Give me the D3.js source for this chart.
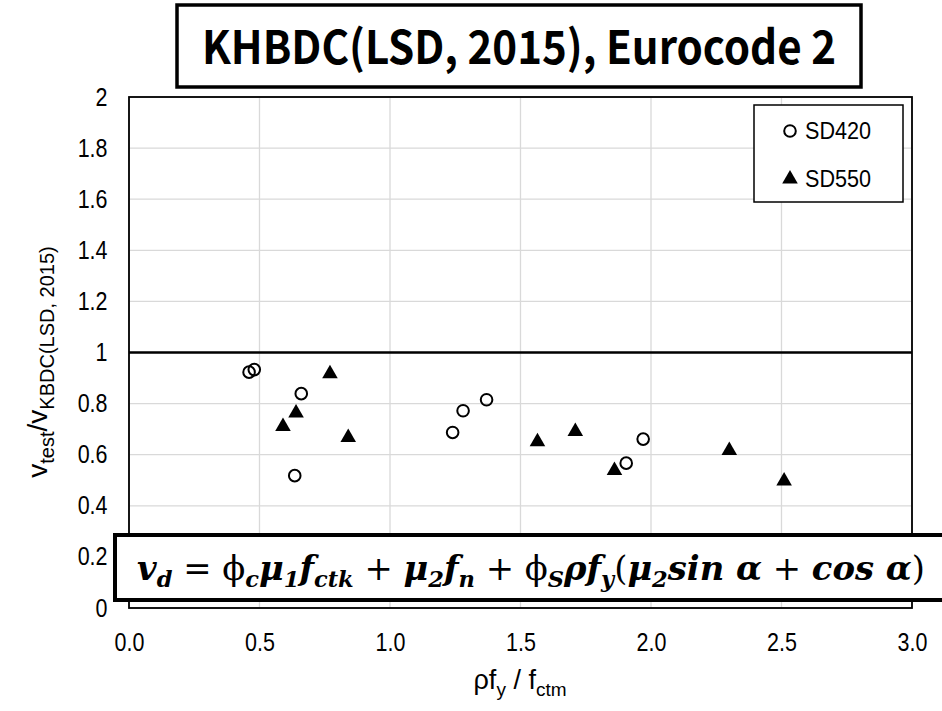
<!DOCTYPE html>
<html>
<head>
<meta charset="utf-8">
<script src="https://cdn.jsdelivr.net/npm/d3@7"></script>
<style>
  body { margin: 0; background: #fff; }
  svg { display: block; }
</style>
</head>
<body>
<script>
// chart size
var w = 942;
var h = 711;

// data
var sd420X = [0.46, 0.48, 0.66, 0.635, 1.24, 1.28, 1.37, 1.905, 1.97];
var sd420Y = [0.923, 0.933, 0.839, 0.518, 0.687, 0.772, 0.815, 0.567, 0.661];
var sd550X = [0.59, 0.64, 0.77, 0.84, 1.565, 1.71, 1.86, 2.30, 2.51];
var sd550Y = [0.71, 0.763, 0.917, 0.667, 0.651, 0.691, 0.538, 0.616, 0.497];

var xTicks = [0, 0.5, 1, 1.5, 2, 2.5, 3];
var yTicks = [0, 0.2, 0.4, 0.6, 0.8, 1, 1.2, 1.4, 1.6, 1.8, 2];
var seriesNames = ["SD420", "SD550"];
var refLine = 1;

var titleText = "KHBDC(LSD, 2015), Eurocode 2";

var svg = d3.select("body")
            .append("svg")
            .attr("width", w)
            .attr("height", h);

// plot area
var plotL = 129, plotR = 912, plotT = 97, plotB = 608;

var x = d3.scaleLinear().domain([0, 3]).range([plotL, plotR]);
var y = d3.scaleLinear().domain([0, 2]).range([plotB, plotT]);

//gridlines
svg.append("g")
   .selectAll("line")
   .data(xTicks)
   .enter()
   .append("line")
   .attr("x1", function(d) { return x(d); })
   .attr("x2", function(d) { return x(d); })
   .attr("y1", plotT)
   .attr("y2", plotB)
   .attr("stroke", "#d9d9d9")
   .attr("stroke-width", 1.3);

svg.append("g")
   .selectAll("line")
   .data(yTicks)
   .enter()
   .append("line")
   .attr("x1", plotL)
   .attr("x2", plotR)
   .attr("y1", function(d) { return y(d); })
   .attr("y2", function(d) { return y(d); })
   .attr("stroke", "#d9d9d9")
   .attr("stroke-width", 1.3);

// plot border
svg.append("rect")
   .attr("x", plotL)
   .attr("y", plotT)
   .attr("width", plotR - plotL)
   .attr("height", plotB - plotT)
   .attr("fill", "none")
   .attr("stroke", "#000")
   .attr("stroke-width", 1.8);

// y = 1 line
svg.append("line")
   .attr("x1", plotL)
   .attr("x2", plotR)
   .attr("y1", y(refLine))
   .attr("y2", y(refLine))
   .attr("stroke", "#000")
   .attr("stroke-width", 2.5);

// axes (labels only)
var xAxis = d3.axisBottom(x).tickValues(xTicks).tickFormat(d3.format(".1f")).tickSize(0).tickPadding(25);
var gx = svg.append("g")
   .attr("transform", "translate(0," + plotB + ")")
   .call(xAxis);

var yAxis = d3.axisLeft(y).tickValues(yTicks).tickFormat(function(d) { return String(+d.toFixed(1)); }).tickSize(0).tickPadding(25);
var gy = svg.append("g")
   .attr("transform", "translate(" + plotL + ",0)")
   .call(yAxis);

//slightly narrow glyphs like the original
[gx, gy].forEach(function(g) {
  g.select(".domain").remove();
  g.selectAll("text")
   .attr("font-family", "Liberation Sans, Arial, sans-serif")
   .attr("font-size", 25)
   .attr("fill", "#000")
   .attr("transform", "scale(0.86,1)");
});

// markers
var tri = d3.symbol().type(d3.symbolTriangle).size(105);

svg.append("g")
   .selectAll("path")
   .data(d3.zip(sd550X, sd550Y))
   .enter()
   .append("path")
   .attr("d", tri)
   .attr("transform", function(d) { return "translate(" + x(d[0]) + "," + y(d[1]) + ")"; })
   .attr("fill", "#000");

svg.append("g")
   .selectAll("circle")
   .data(d3.zip(sd420X, sd420Y))
   .enter()
   .append("circle")
   .attr("cx", function(d) { return x(d[0]); })
   .attr("cy", function(d) { return y(d[1]); })
   .attr("r", 5.8)
   .attr("fill", "none")
   .attr("stroke", "#000")
   .attr("stroke-width", 2);

// legend
svg.append("rect")
   .attr("x", 754)
   .attr("y", 105)
   .attr("width", 149)
   .attr("height", 97)
   .attr("fill", "#fff")
   .attr("stroke", "#000")
   .attr("stroke-width", 1.5);

svg.append("circle")
   .attr("cx", 790)
   .attr("cy", 131)
   .attr("r", 5.8)
   .attr("fill", "none")
   .attr("stroke", "#000")
   .attr("stroke-width", 2);

svg.append("path")
   .attr("d", tri)
   .attr("transform", "translate(790,179)")
   .attr("fill", "#000");

svg.selectAll("text.leg")
   .data(seriesNames)
   .enter()
   .append("text")
   .attr("class", "leg")
   .attr("x", 805)
   .attr("y", function(d, i) { return 139 + i * 48; })
   .attr("font-family", "Liberation Sans, Arial, sans-serif")
   .attr("font-size", 23)
   .attr("textLength", 66)
   .attr("lengthAdjust", "spacingAndGlyphs")
   .text(function(d) { return d; });

// title box
svg.append("rect")
   .attr("x", 177)
   .attr("y", 5)
   .attr("width", 684)
   .attr("height", 82)
   .attr("fill", "#fff")
   .attr("stroke", "#000")
   .attr("stroke-width", 3.5);

svg.append("text")
   .attr("x", 519)
   .attr("y", 64)
   .attr("text-anchor", "middle")
   .attr("font-family", "Noto Sans CJK KR, Noto Sans, sans-serif")
   .attr("font-weight", "bold")
   .attr("font-size", 46)
   .attr("textLength", 634)
   .attr("lengthAdjust", "spacingAndGlyphs")
   .text(titleText);

// formula box
svg.append("rect")
   .attr("x", 115)
   .attr("y", 535)
   .attr("width", 840)
   .attr("height", 65)
   .attr("fill", "#fff")
   .attr("stroke", "#000")
   .attr("stroke-width", 4);

// helper to write text with subscripts: parts are [text, isSub, upright]
function richText(sel, parts, subSize, shift) {
  var lastSub = false;
  parts.forEach(function(p) {
    var t = sel.append("tspan").text(p[0]);
    var dy = 0;
    if (p[1] && !lastSub) dy = shift;
    if (!p[1] && lastSub) dy = -shift;
    if (dy) t.attr("dy", dy);
    if (p[1]) t.attr("font-size", subSize);
    if (p[2]) t.attr("font-style", "normal").attr("font-weight", "normal");
    lastSub = !!p[1];
  });
}

var formula = svg.append("text")
   .attr("x", 137)
   .attr("y", 580)
   .attr("font-family", "DejaVu Serif, serif")
   .attr("font-weight", "bold")
   .attr("font-style", "italic")
   .attr("font-size", 33)
   .attr("textLength", 788)
   .attr("lengthAdjust", "spacingAndGlyphs");

richText(formula, [
  ["v"], ["d", 1], [" = ", 0, 1], ["\u03d5", 0, 1], ["c", 1], ["\u03bc"], ["1", 1], ["f"], ["ctk", 1],
  [" + ", 0, 1], ["\u03bc"], ["2", 1], ["f"], ["n", 1], [" + ", 0, 1], ["\u03d5", 0, 1], ["S", 1], ["\u03c1f"], ["y", 1],
  ["(", 0, 1], ["\u03bc"], ["2", 1], ["sin \u03b1"], [" + ", 0, 1], ["cos \u03b1"], [")", 0, 1]
], 22, 7);

// y axis title
var ylab = svg.append("text")
   .attr("transform", "translate(47,362) rotate(-90)")
   .attr("text-anchor", "middle")
   .attr("font-family", "Liberation Sans, Arial, sans-serif")
   .attr("font-size", 28);

richText(ylab, [["v"], ["test", 1], ["/v"], ["KBDC(LSD, 2015)", 1]], 20, 7);

// x axis title
var xlab = svg.append("text")
   .attr("x", 520)
   .attr("y", 689)
   .attr("text-anchor", "middle")
   .attr("font-family", "Liberation Sans, Arial, sans-serif")
   .attr("font-size", 27);

richText(xlab, [["\u03c1f"], ["y", 1], [" / f"], ["ctm", 1]], 19, 7);
</script>
</body>
</html>
